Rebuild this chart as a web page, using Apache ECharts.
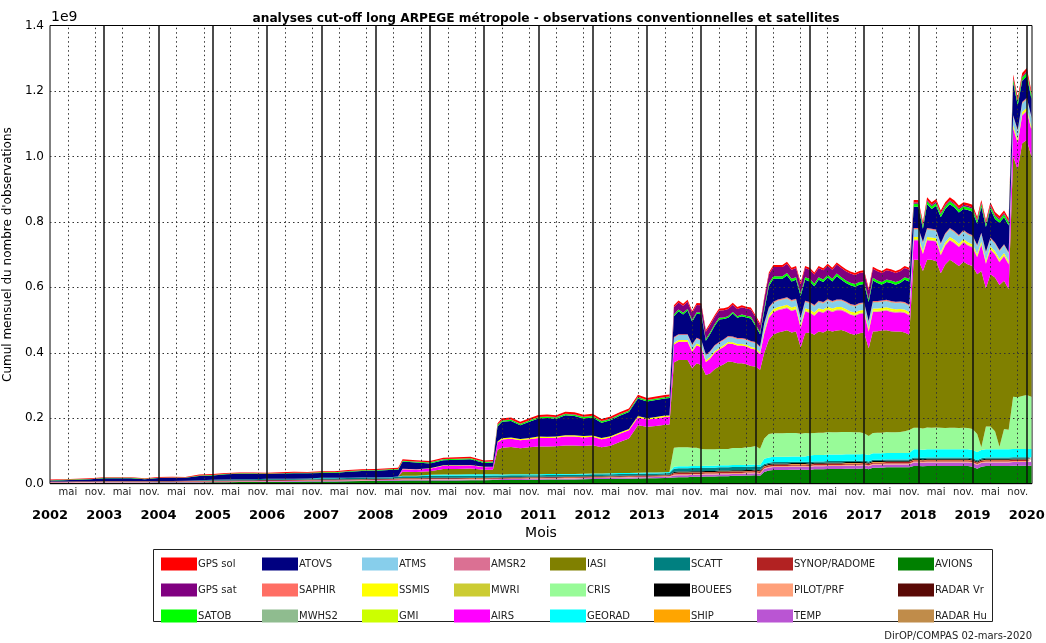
<!DOCTYPE html>
<html>
<head>
<meta charset="utf-8">
<title>analyses cut-off long ARPEGE métropole</title>
<script src="https://cdn.jsdelivr.net/npm/echarts@6/dist/echarts.min.js"></script>
<style>
  html, body { margin: 0; padding: 0; background: #fff; }
  #chart { width: 1046px; height: 643px; }
</style>
</head>
<body>
<div id="chart"></div>
<script>
// mois depuis janvier 2002 (0 = janv. 2002) ; valeurs en millions d'observations
const MONTHS = [
  0,3,6,9,12,15,18,21,24,27,30,33,36,39,42,45,48,51,54,57,60,63,66,69,72,75,
  77,78,81,84,87,90,93,96,98,99,
  100,102,104,106,108,110,112,114,116,118,120,122,124,126,128,130,132,134,136,
  137,138,139,140,141,142,143,
  144,145,146,147,148,149,150,151,152,153,154,155,
  156,157,158,159,160,161,162,163,164,165,166,167,
  168,169,170,171,172,173,174,175,176,177,178,179,
  180,181,182,183,184,185,186,187,188,189,190,191,
  192,193,194,195,196,197,198,199,200,201,202,203,
  204,205,206,207,208,209,210,211,212,213,214,215,
  216,217
];

const RADAR_HU = [
  0,0,0,0,0,0,0,0,0,0,0,0,0,0,0,0,0,0,0,0,0,0,0,0,0,0,
  0,0,0,0,0,0,0,0,0,0,
  0,0,0,0,0,0,0,0,0,0,0,0,0,0,0,0,0,0,0,
  0,0,0,0,0,0,0,
  0,0,0,0,0,0,0,0,0,0,0,0,
  0,0,1,1,1,1,1,1,1,1,1,1,
  1,1,1,1,1,1,1,1,1,1,1,1,
  1,1,1,1,1,1,1,1,1,1,1,1,
  1,1,1,1,1,1,1,1,1,1,1,1,
  1,1,1,1,1,1,1,1,1,1,1,1,
  1,1
];
const RADAR_VR = [
  0,0,0,0,0,0,0,0,0,0,0,0,0,0,0,0,0,0,0,0,0,0,0,0,0,0,
  0,0,0,0,0,0,0,0,0,0,
  0,0,0,0,0,0,0,0,0,0,0,0,0,0,0,0,0,0,0,
  0,0,0,0,0,0,0,
  0,0,0,0,0,0,0,0,0,0,0,0,
  0,0,1,1,1,1,1,1,1,1,1,1,
  1,1,1,1,1,1,1,1,1,1,1,1,
  1,1,1,1,1,1,1,1,1,1,1,1,
  1,1,1,1,1,1,1,1,1,1,1,1,
  1,1,1,1,1,1,1,1,1,1,1,1,
  1,1
];
const AVIONS = [
  2,2,2.5,2.5,3,3,3,3,3.5,3.5,4,4,4.5,4.5,5,5,5.5,5.5,6,6.5,7,7,7.5,8,8.5,9,
  9,9.5,9.5,10,10,10,10.5,10.5,11,11,
  11,11.5,11.5,12,12,12.5,12.5,13,13,13.5,14,14,14.5,15,15.5,16,16.5,17,17.5,
  18,19,20,20,20,21,21,
  21,22,22,22,23,23,23,24,24,24,25,25,
  26,24,34,38,40,40,40,40,41,41,41,41,
  40,42,42,42,43,43,43,43,44,44,44,44,
  45,42,47,47,47,48,48,48,48,48,48,52,
  52,51,52,52,52,52,52,52,52,52,52,52,
  50,44,50,52,52,52,52,52,52,53,53,53,
  53,53
];
const TEMP = [
  1.5,1.5,1.5,1.5,1.5,1.5,1.5,1.5,1.5,1.5,1.5,1.5,1.5,1.5,1.5,1.5,2,2,2,2,2,2,2,2,2,2,
  2.5,2.5,2.5,2.5,2.5,2.5,2.5,2.5,2.5,2.5,
  3,3,3,3,3,3,3,3,3,3,3.5,3.5,3.5,3.5,3.5,3.5,3.5,3.5,3.5,
  3.5,6,6,6,6,6,6,
  6,6,6,6,6,6,6,6,6,6,6,6,
  6,6,9,9,9,9,9,9,9,9,9,9,
  9,9,9,9,9,9,9,9,9,9,9,9,
  9,9,9,9,9,9,9,9,9,9,9,11,
  11,11,11,11,11,11,11,11,11,11,11,11,
  11,11,11,11,11,11,11,11,11,11,11,11,
  11,11
];
const PILOT = [
  1,1,1,1,1,1,1,1,1,1,1,1,1,1,1,1,1,1,1,1,1,1,1,1,1,1,
  1.5,1.5,1.5,1.5,1.5,1.5,1.5,1.5,1.5,1.5,
  1.5,1.5,1.5,1.5,1.5,1.5,1.5,1.5,1.5,1.5,1.5,1.5,1.5,1.5,1.5,1.5,1.5,1.5,1.5,
  1.5,3,3,3,3,3,3,
  3,3,3,3,3,3,3,3,3,3,3,3,
  3,3,3,3,3,3,3,3,3,3,3,3,
  3,3,3,3,3,3,3,3,3,3,3,3,
  3,3,3,3,3,3,3,3,3,3,3,3,
  3,3,3,3,3,3,3,3,3,3,3,3,
  3,3,3,3,3,3,3,3,3,3,3,3,
  3,3
];
const SYNOP = [
  1.5,1.5,1.5,1.5,1.5,1.5,1.5,1.5,1.5,1.5,1.5,1.5,2,2,2,2,2,2,2,2,2,2,2,2,2,2,
  2.5,2.5,2.5,2.5,2.5,2.5,2.5,2.5,2.5,2.5,
  2.5,2.5,2.5,2.5,2.5,2.5,2.5,2.5,2.5,2.5,2.5,2.5,2.5,2.5,2.5,2.5,2.5,2.5,2.5,
  2.5,4,4,4,4,4,4,
  4,4,4,4,4,4,4,4,4,4,4,4,
  4,4,4,4,4,4,4,4,4,4,4,4,
  4,4,4,4,4,4,4,4,4,4,4,4,
  4,4,4,4,4,4,4,4,4,4,4,4,
  4,4,4,4,4,4,4,4,4,4,4,4,
  4,4,4,4,4,4,4,4,4,4,4,4,
  4,4
];
const SHIP = [
  0.3,0.3,0.3,0.3,0.3,0.3,0.3,0.3,0.3,0.3,0.3,0.3,0.3,0.3,0.3,0.3,0.3,0.3,0.3,0.3,0.3,0.3,0.3,0.3,0.3,0.3,
  0.5,0.5,0.5,0.5,0.5,0.5,0.5,0.5,0.5,0.5,
  0.5,0.5,0.5,0.5,0.5,0.5,0.5,0.5,0.5,0.5,0.5,0.5,0.5,0.5,0.5,0.5,0.5,0.5,0.5,
  0.5,1,1,1,1,1,1,
  1,1,1,1,1,1,1,1,1,1,1,1,
  1,1,1,1,1,1,1,1,1,1,1,1,
  1,1,1,1,1,1,1,1,1,1,1,1,
  1,1,1,1,1,1,1,1,1,1,1,1,
  1,1,1,1,1,1,1,1,1,1,1,1,
  1,1,1,1,1,1,1,1,1,1,1,1,
  1,1
];
const BOUEES = [
  0.5,0.5,0.5,0.5,0.5,0.5,0.5,0.5,0.5,0.5,0.5,0.5,0.5,0.5,0.5,0.5,1,1,1,1,1,1,1,1,1,1,
  1,1,1,1,1,1,1,1,1,1,
  1.5,1.5,1.5,1.5,1.5,1.5,1.5,1.5,1.5,1.5,1.5,1.5,1.5,1.5,1.5,1.5,1.5,1.5,1.5,
  1.5,3,3,3,3,3,3,
  3,3,3,3,3,3,3,3,3,3,3,3,
  3,3,3,3,3,3,3,3,3,3,3,3,
  3,3,3,3,3,3,3,3,3,3,3,3,
  3,3,3,3,3,3,3,3,3,3,3,3,
  3,3,3,3,3,3,3,3,3,3,3,3,
  3,3,3,3,3,3,3,3,3,3,3,3,
  3,3
];
const SCATT = [
  0,0,0,0,0,0,0,0,0,0,0,2,2.5,3,3,3,3,3,3,3,3.5,3.5,3.5,3.5,3.5,3.5,
  4,5,5,6,6,6,6,6,6,6,
  5,5,5,5,5,5,5,5,5,5,5,5,5,5,5,5,5,5,5,
  5,10,10,10,10,10,10,
  10,10,10,10,10,10,10,10,10,10,10,10,
  10,10,4,4,4,4,4,4,4,4,4,4,
  4,4,4,4,4,4,4,4,4,4,4,4,
  4,4,4,4,4,4,4,4,4,4,4,4,
  4,4,4,4,4,4,4,4,4,4,4,4,
  4,4,4,4,4,4,4,4,4,4,4,4,
  4,4
];
const GEORAD = [
  0,0,0,0,0,0,0,0,0,0,0,0,0,0,0,0,0,0,0,0,1,1,1,1,1,1,
  1,2,2,3,4,4,4,4,4,4,
  3,3,3,3,3,3,3,3,3,3,3,3,3,3,3,3,3,3,3,
  3,6,6,6,6,6,6,
  6,6,6,6,6,6,6,6,6,6,6,6,
  6,6,16,16,16,16,16,16,16,16,16,16,
  20,20,20,20,20,20,20,20,20,20,20,20,
  20,20,20,20,20,20,20,20,20,20,20,25,
  25,25,25,25,25,25,25,25,25,25,25,25,
  25,25,25,25,25,25,25,25,25,25,25,25,
  25,25
];
const CRIS = [
  0,0,0,0,0,0,0,0,0,0,0,0,0,0,0,0,0,0,0,0,0,0,0,0,0,0,
  0,0,0,0,0,0,0,0,0,0,
  0,0,0,0,0,0,0,0,0,0,0,0,0,0,0,0,0,0,0,
  0,58,58,58,58,56,56,
  52,50,50,50,50,50,50,52,52,52,53,54,
  56,50,62,72,72,72,72,73,72,72,70,72,
  68,67,68,68,69,68,68,69,68,68,67,67,
  63,58,62,63,63,64,63,63,64,66,70,66,
  66,65,67,66,67,66,65,66,66,65,66,65,
  64,55,8,70,70,55,8,62,60,160,158,162,
  165,160
];
const IASI = [
  0,0,0,0,0,0,0,0,0,0,0,0,0,0,0,0,0,0,0,0,0,0,0,0,0,0,
  0,12,11,11,17,17,18,14,14,75,
  82,84,80,82,85,84,85,87,87,85,86,80,84,95,105,145,140,142,145,
  145,260,267,267,267,243,258,
  257,227,232,245,252,259,267,263,259,259,254,248,
  243,241,262,288,301,308,311,314,307,310,264,305,
  308,300,309,306,311,308,311,312,307,300,298,303,
  308,268,310,310,312,311,309,308,307,302,291,513,
  513,481,512,513,508,472,500,513,504,495,507,500,
  498,488,539,422,465,470,494,453,430,734,696,772,
  779,734
];
const AIRS = [
  0,0,0,0,0,0,0,0,0,0,0,0,0,0,0,0,0,0,0,0,0,0,0,0,0,0,
  0,8,8,8,10,10,10,8,8,22,
  25,25,24,25,26,26,26,27,27,26,26,24,25,25,25,24,22,23,24,
  24,55,56,56,56,50,55,
  54,40,45,50,52,53,55,55,54,54,54,53,
  52,48,58,66,68,68,68,68,66,67,58,66,
  60,58,61,60,62,60,62,60,59,58,58,59,
  59,50,60,59,59,60,59,58,59,60,59,60,
  60,52,60,58,60,55,58,60,60,58,60,58,
  57,52,80,75,75,70,70,75,75,85,80,85,
  88,80
];
const MWRI = [
  0,0,0,0,0,0,0,0,0,0,0,0,0,0,0,0,0,0,0,0,0,0,0,0,0,0,
  0,0,0,0,0,0,0,0,0,0,
  0,0,0,0,0,0,0,0,0,0,0,0,0,0,0,0,0,0,0,
  0,0,0,0,0,0,0,
  0,0,0,0,0,0,0,0,0,0,0,0,
  0,0,1,1,1,1,1,1,1,1,1,1,
  1,1,1,1,1,1,1,1,1,1,1,1,
  1,1,1,1,1,1,1,1,1,1,1,1,
  1,1,1,1,1,1,1,1,1,1,1,1,
  1,1,1,1,1,1,1,1,1,1,1,1,
  1,1
];
const AMSR2 = [
  0,0,0,0,0,0,0,0,0,0,0,0,0,0,0,0,0,0,0,0,0,0,0,0,0,0,
  0,0,0,0,0,0,0,0,0,0,
  0,0,0,0,0,0,0,0,0,0,0,0,0,0,0,0,0,0,0,
  0,0,0,0,0,0,0,
  0,0,0,0,0,0,0,0,0,0,0,0,
  0,0,1,1,1,1,1,1,1,1,1,1,
  1,1,1,1,1,1,1,1,1,1,1,1,
  1,1,1,1,1,1,1,1,1,1,1,1,
  1,1,1,1,1,1,1,1,1,1,1,1,
  1,1,1,1,1,1,1,1,1,1,1,1,
  1,1
];
const GMI = [
  0,0,0,0,0,0,0,0,0,0,0,0,0,0,0,0,0,0,0,0,0,0,0,0,0,0,
  0,0,0,0,0,0,0,0,0,0,
  0,0,0,0,0,0,0,0,0,0,0,0,0,0,0,0,0,0,0,
  0,0,0,0,0,0,0,
  0,0,0,0,0,0,0,0,0,0,0,0,
  0,0,2,2,2,2,2,2,2,2,2,2,
  2,2,2,2,2,2,2,2,2,2,2,2,
  2,2,2,2,2,2,2,2,2,2,2,2,
  2,2,2,2,2,2,2,2,2,2,2,2,
  2,2,2,2,2,2,2,2,2,2,2,2,
  2,2
];
const SSMIS = [
  0,0,0,0,0,0,0,0,0,0,0,0,0,0,0,0,0,0,0,0,0,0,0,0,0,0,
  0,1,1,1,1,1,1,1,1,3,
  4,4,4,4,4,4,4,4,4,4,4,4,4,4,4,4,4,4,4,
  4,5,5,5,5,5,5,
  5,5,5,5,5,5,5,5,5,5,5,5,
  5,5,6,6,6,6,6,6,6,6,6,6,
  6,6,6,6,6,6,6,6,6,6,6,6,
  6,6,6,6,6,6,6,6,6,6,6,6,
  6,6,6,6,6,6,6,6,6,6,6,6,
  6,6,6,6,6,6,6,6,6,7,7,7,
  7,7
];
const ATMS = [
  0,0,0,0,0,0,0,0,0,0,0,0,0,0,0,0,0,0,0,0,0,0,0,0,0,0,
  0,0,0,0,0,0,0,0,0,0,
  0,0,0,0,0,0,0,0,0,0,0,0,0,0,0,0,0,0,0,
  0,15,15,15,15,15,15,
  15,15,15,15,15,15,15,15,15,15,15,15,
  15,15,18,18,18,18,18,18,18,18,18,18,
  18,18,18,18,18,18,18,18,18,18,18,18,
  18,18,18,18,18,18,18,18,18,18,18,22,
  22,22,22,22,22,22,22,22,22,22,22,22,
  22,22,22,22,22,22,22,22,22,25,25,25,
  25,25
];
const MWHS2 = [
  0,0,0,0,0,0,0,0,0,0,0,0,0,0,0,0,0,0,0,0,0,0,0,0,0,0,
  0,0,0,0,0,0,0,0,0,0,
  0,0,0,0,0,0,0,0,0,0,0,0,0,0,0,0,0,0,0,
  0,0,0,0,0,0,0,
  0,0,0,0,0,0,0,0,0,0,0,0,
  0,0,2,2,2,2,2,2,2,2,2,2,
  2,2,2,2,2,2,2,2,2,2,2,2,
  2,2,2,2,2,2,2,2,2,2,2,2,
  2,2,2,2,2,2,2,2,2,2,2,2,
  2,2,2,2,2,2,2,2,2,2,2,2,
  2,2
];
const SAPHIR = [
  0,0,0,0,0,0,0,0,0,0,0,0,0,0,0,0,0,0,0,0,0,0,0,0,0,0,
  0,0,0,0,0,0,0,0,0,0,
  0,0,0,0,0,0,0,0,0,0,0,0,0,0,0,0,0,0,0,
  0,3,3,3,3,3,3,
  3,3,3,3,3,3,3,3,3,3,3,3,
  3,3,3,3,3,3,3,3,3,3,3,3,
  3,3,3,3,3,3,3,3,3,3,3,3,
  3,3,3,3,3,3,3,3,3,3,3,3,
  3,3,3,3,3,3,3,3,3,3,3,3,
  3,3,3,3,3,3,3,3,3,3,3,3,
  3,3
];
const ATOVS = [
  3,4,5,6,9,9,9,6,9,10,9,13,13,16,17,17,15,16,17,16,15,15,18,20,20,22,
  20,22,20,15,16,17,17,12,13,46,
  50,50,42,49,55,57,54,61,59,54,55,47,49,51,52,54,51,52,52,
  53,64,70,60,72,69,73,
  78,42,52,59,69,62,56,70,62,67,66,69,
  49,38,37,64,70,63,60,66,57,58,65,64,
  63,57,64,61,66,60,71,60,56,57,56,56,
  56,58,63,55,48,54,55,52,56,68,71,65,
  65,40,73,60,72,79,74,73,72,69,64,71,
  72,65,79,75,87,72,83,82,82,100,75,65,
  67,55
];
const SATOB = [
  1,1,1,1,1,1,1,1,1,1,1,1.5,1.5,1.5,1.5,1.5,1.5,1.5,1.5,1.5,2,2,2,2,2,2,
  2.5,2.5,2.5,3,3,3,3,3,3,4,
  4,4,4,4,4,4,4,4,4,4,4,4,4,4,4,4,4,4,4,
  4,5,5,5,5,5,5,
  5,5,5,5,5,5,5,5,5,5,5,5,
  5,5,8,8,8,8,8,8,8,8,8,8,
  8,8,8,8,8,8,8,8,8,8,8,8,
  8,8,8,8,8,8,8,8,8,8,8,9,
  9,9,9,9,9,9,9,9,9,9,9,9,
  9,9,9,9,9,9,9,9,9,10,10,10,
  10,10
];
const GPS_SAT = [
  0,0,0,0,0,0,0,0,0,0,0,0,0,0,0,0,0,0,0,0,0.5,0.5,0.5,0.5,0.5,0.5,
  0.5,0.5,0.5,0.5,0.5,0.5,0.5,0.5,0.5,1,
  1,1,1,1,1,1,1,1,1,1,1,1,1,1,1,1,1,1,1,
  1,22,22,22,22,22,22,
  22,22,22,22,22,22,22,22,22,22,22,22,
  22,22,28,28,28,28,28,28,28,28,28,28,
  28,28,28,28,28,28,28,28,28,28,28,28,
  28,28,28,28,28,28,28,28,28,28,28,4,
  4,4,4,4,4,4,4,4,4,4,4,4,
  4,4,4,4,4,4,4,4,4,4,4,4,
  4,4
];
const GPS_SOL = [
  2,2,2,2,2,2,2,2,2,2,2,2.5,2.5,2.5,2.5,2.5,2.5,2.5,2.5,2.5,3,3,3,3,3,3,
  3.5,4,4,4,4,4,4,4,4,5,
  6,6,6,6,6,6,6,6,6,6,6,6,6,6,6,6,6,6,6,
  6,6,6,6,6,6,6,
  6,6,6,6,6,6,6,6,6,6,6,6,
  6,6,6,6,6,6,6,6,6,6,6,6,
  6,6,6,6,6,6,6,6,6,6,6,6,
  6,6,6,6,6,6,6,6,6,6,6,8,
  8,8,8,8,8,8,8,8,8,8,8,8,
  8,8,8,8,8,8,8,8,8,10,10,10,
  10,10
];

// empilement du bas vers le haut
const SERIES = [
  ['RADAR Hu', RADAR_HU, '#c08c4a'],
  ['RADAR Vr', RADAR_VR, '#5a0a06'],
  ['AVIONS', AVIONS, '#008000'],
  ['TEMP', TEMP, '#ba55d3'],
  ['PILOT/PRF', PILOT, '#ffa07a'],
  ['SYNOP/RADOME', SYNOP, '#b22222'],
  ['SHIP', SHIP, '#ffa500'],
  ['BOUEES', BOUEES, '#000000'],
  ['SCATT', SCATT, '#008080'],
  ['GEORAD', GEORAD, '#00ffff'],
  ['CRIS', CRIS, '#98fb98'],
  ['IASI', IASI, '#808000'],
  ['AIRS', AIRS, '#ff00ff'],
  ['MWRI', MWRI, '#cccc33'],
  ['AMSR2', AMSR2, '#db7093'],
  ['GMI', GMI, '#ccff00'],
  ['SSMIS', SSMIS, '#ffff00'],
  ['ATMS', ATMS, '#87ceeb'],
  ['MWHS2', MWHS2, '#8fbc8f'],
  ['SAPHIR', SAPHIR, '#ff6e64'],
  ['ATOVS', ATOVS, '#000080'],
  ['SATOB', SATOB, '#00ff00'],
  ['GPS sat', GPS_SAT, '#800080'],
  ['GPS sol', GPS_SOL, '#ff0000']
];

const LEGEND_COLS = [
  ['GPS sol', 'GPS sat', 'SATOB'],
  ['ATOVS', 'SAPHIR', 'MWHS2'],
  ['ATMS', 'SSMIS', 'GMI'],
  ['AMSR2', 'MWRI', 'AIRS'],
  ['IASI', 'CRIS', 'GEORAD'],
  ['SCATT', 'BOUEES', 'SHIP'],
  ['SYNOP/RADOME', 'PILOT/PRF', 'TEMP'],
  ['AVIONS', 'RADAR Vr', 'RADAR Hu']
];
const LEGEND_X = [161, 262, 362, 454, 550, 654, 757, 898];

// index de mois -> instant (1er du mois, UTC)
const t = m => Date.UTC(2002, m, 1);

const chart = echarts.init(document.getElementById('chart'));

const FONT = 'DejaVu Sans';
const dotted = { color: '#333', width: 1, type: [1.5, 3] };
const solid = { color: '#111', width: 1.5, type: 'solid' };

const gridMarks = [];
for (let v = 200; v <= 1200; v += 200) gridMarks.push({ yAxis: v, lineStyle: dotted });
for (let m = 4; m <= 217; m += 6) gridMarks.push({ xAxis: t(m), lineStyle: dotted });
for (let m = 12; m <= 217; m += 12) gridMarks.push({ xAxis: t(m), lineStyle: solid });
gridMarks.push({ yAxis: 0, lineStyle: { color: '#000', width: 1.2, type: 'solid' } });

const minorTicks = [];
for (let m = 4; m <= 217; m += 6) minorTicks.push(t(m));
const yearTicks = [];
for (let m = 0; m <= 217; m += 12) yearTicks.push(t(m));

const X_MIN = t(0);
const X_MAX = Date.UTC(2020, 1, 5);

const series = SERIES.map(([name, vals, color], idx) => {
  const s = {
    name: name,
    type: 'line',
    stack: 'obs',
    xAxisIndex: 0,
    data: MONTHS.map((m, i) => [t(m), vals[i]]),
    symbol: 'none',
    showSymbol: false,
    color: color,
    itemStyle: { color: color },
    lineStyle: { width: 0 },
    areaStyle: { color: color, opacity: 1 },
    emphasis: { disabled: true },
    silent: true,
    animation: false
  };
  if (idx === SERIES.length - 1) {
    s.markLine = {
      silent: true,
      symbol: 'none',
      label: { show: false },
      animation: false,
      data: gridMarks
    };
  }
  return s;
});

const legends = LEGEND_COLS.map((col, i) => ({
  data: col,
  orient: 'vertical',
  left: LEGEND_X[i],
  top: 556,
  padding: 0,
  itemGap: 10,
  itemWidth: 36,
  itemHeight: 13,
  icon: 'rect',
  selectedMode: false,
  textStyle: { fontFamily: FONT, fontSize: 10, color: '#222', lineHeight: 13, padding: [3, 0, 0, -4] }
}));

const hidden = { show: false };

const option = {
  backgroundColor: '#fff',
  animation: false,
  textStyle: { fontFamily: FONT },
  title: {
    text: 'analyses cut-off long ARPEGE métropole - observations conventionnelles et satellites',
    left: 541,
    textAlign: 'center',
    top: 8,
    textStyle: { fontFamily: FONT, fontSize: 12.2, fontWeight: 'bold', color: '#000' }
  },
  legend: legends,
  grid: {
    left: 50, right: 14, top: 25.5, bottom: 159.3,
    outerBoundsMode: 'none',
    containLabel: false,
    show: true, borderColor: '#000', borderWidth: 1, backgroundColor: 'transparent'
  },
  xAxis: [
    {
      // axe des séries
      type: 'time', min: X_MIN, max: X_MAX,
      axisLine: hidden, axisTick: hidden, splitLine: hidden, axisLabel: hidden
    },
    {
      // étiquettes mai / nov.
      type: 'value', min: X_MIN, max: X_MAX, position: 'bottom',
      axisLine: hidden, axisTick: hidden, splitLine: hidden,
      axisLabel: {
        customValues: minorTicks,
        formatter: v => (new Date(v).getUTCMonth() === 4 ? 'mai' : 'nov.'),
        fontFamily: FONT, fontSize: 10, color: '#222', margin: 4
      }
    },
    {
      // étiquettes des années
      type: 'value', min: X_MIN, max: X_MAX, position: 'bottom',
      axisLine: hidden, axisTick: hidden, splitLine: hidden,
      axisLabel: {
        customValues: yearTicks,
        formatter: v => String(new Date(v).getUTCFullYear()),
        fontFamily: FONT, fontSize: 13, fontWeight: 'bold', color: '#000', margin: 25
      },
      name: 'Mois', nameLocation: 'middle', nameGap: 41,
      nameTextStyle: { fontFamily: FONT, fontSize: 14, color: '#000' }
    }
  ],
  yAxis: {
    type: 'value', min: 0, max: 1400, interval: 200,
    axisLine: hidden, axisTick: hidden, splitLine: hidden,
    axisLabel: {
      formatter: v => (v / 1000).toFixed(1),
      fontFamily: FONT, fontSize: 12, color: '#000', margin: 6
    },
    name: "Cumul mensuel du nombre d'observations",
    nameLocation: 'middle', nameGap: 32, nameRotate: 90,
    nameTextStyle: { fontFamily: FONT, fontSize: 12, color: '#000' }
  },
  graphic: [
    { type: 'text', left: 51, top: 10, style: { text: '1e9', font: '14px "DejaVu Sans"', fill: '#000' } },
    { type: 'rect', left: 153, top: 549, shape: { width: 839, height: 72 },
      style: { fill: 'transparent', stroke: '#222', lineWidth: 1 }, z: -1 },
    { type: 'text', right: 14, top: 631, style: { text: 'DirOP/COMPAS 02-mars-2020', font: '10px "DejaVu Sans"', fill: '#222' } }
  ],
  series: series
};

chart.setOption(option);
</script>
</body>
</html>
